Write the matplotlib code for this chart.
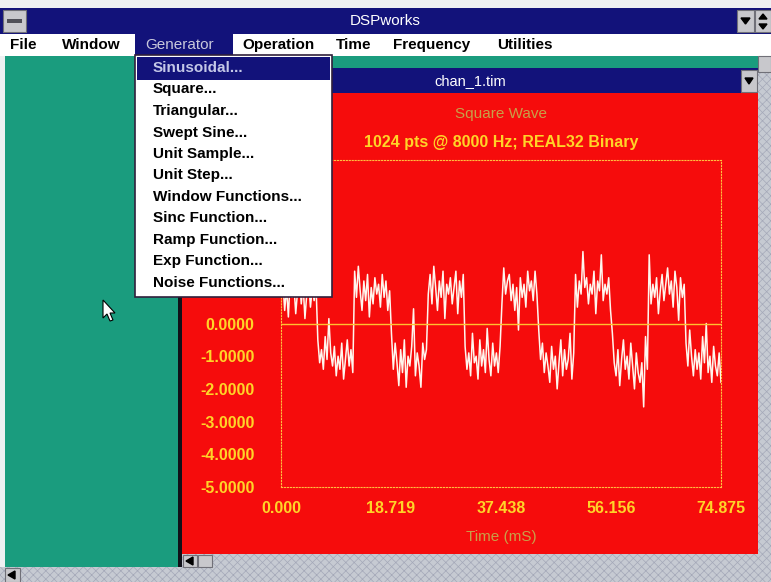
"""DSPworks screenshot: noisy square wave in chan_1.tim window."""
import matplotlib
matplotlib.use("Agg")
import matplotlib.pyplot as plt
import numpy as np
from matplotlib.patches import Rectangle, Polygon

W, H = 771, 582
FONT = ["Liberation Sans", "DejaVu Sans"]
plt.rcParams["font.family"] = FONT

NAVY = "#12127a"
TEAL = "#1a9c7e"
RED = "#f60c0c"
GRAY = "#c6cad2"
YELLOW = "#ffd428"
OLIVE = "#c8a048"

# --- data -------------------------------------------------------------------
# noisy square wave, one list per half period (volts)
seg01 = [0.9, 1.3, 0.4, 1.1, 0.2, 1.4, 0.8, 1.2, 0.3, 1.0, 1.5, 0.6, 1.2, 0.15, 0.9, 1.3, 0.5, 1.1, 0.7, 1.2]
seg02 = [-0.5, -1.2, -0.8, -1.4, -0.4, -1.1, 0.15, -0.9, -1.3, -0.7, -1.6, -1.0, -1.4, -0.6, -1.7, -1.1, -0.5, -1.3, -0.8, -1.5]
seg03 = [1.6, 0.8, 1.75, 1.0, 0.4, 1.3, 0.7, 1.5, 0.2, 1.1, 0.6, 1.4, 0.9, 1.2, 0.5, 1.5, 0.8, 1.3, 0.4, 1.0]
seg04 = [-0.3, -1.4, -0.6, -1.2, -1.9, -0.8, -1.5, -0.5, -1.95, -1.0, -1.3, -0.7, 0.45, -1.6, -0.9, -1.3, -1.95, -0.6, -1.1, -0.8]
seg05 = [0.9, 1.5, 0.6, 1.75, 1.1, 0.4, 1.3, 0.8, 1.6, 0.15, 1.2, 0.9, 1.4, 0.6, 1.1, 1.6, 0.3, 1.3, 0.8, 1.5]
seg06 = [-0.7, -1.4, -0.9, -1.6, -0.3, -1.2, -1.0, -1.7, -0.5, -1.3, -0.8, -1.5, -0.15, -1.1, -1.6, -0.6, -1.3, -0.9, -1.5, -0.7]
seg07 = [0.6, 1.7, 0.9, 1.3, 1.5, 0.7, 1.2, 0.4, 1.1, -0.2, 1.4, 0.8, 1.2, 0.5, 1.6, 1.0, 1.3, 0.7, 1.6, 0.9]
seg08 = [-0.2, -1.1, -0.6, -1.5, -0.9, -1.3, -1.8, -0.7, -1.4, -1.0, -2.0, -1.2, -0.5, -1.6, -0.8, -1.4, -1.1, -0.3, -1.7, -0.9]
seg09 = [1.5, 0.5, 1.3, 0.9, 2.2, 1.1, 1.4, 0.6, 1.2, 0.9, 1.6, 0.3, 1.3, 1.0, 2.1, 0.7, 1.2, 0.9, 1.4, 0.4]
seg10 = [-0.3, -1.2, -1.6, -0.8, -1.9, -1.1, -0.5, -1.4, -1.0, -1.7, -0.6, -1.3, -2.0, -0.9, -1.5, -1.8, -1.2, -2.55, -0.4, -1.4]
seg11 = [2.1, 0.6, 1.2, 0.8, 1.4, 0.3, 1.0, 1.5, 0.7, 1.2, 1.7, 0.9, 1.3, 0.5, 1.6, 1.1, 0.1, 1.4, 0.8, 1.2]
seg12 = [-0.6, -1.3, -0.2, -1.0, -1.6, -0.8, -1.4, -0.9, -1.7, -0.4, -1.2, 0.0, -1.5, -1.0, -1.8, -0.7, -1.3, -1.6, -0.9, -1.8]
segments = [seg01, seg02, seg03, seg04, seg05, seg06, seg07, seg08, seg09, seg10, seg11, seg12]

t_end = 74.875
x_ticks = [0.0, 18.719, 37.438, 56.156, 74.875]
y_ticks = [-5, -4, -3, -2, -1, 0]  # the positive labels sit under the open menu

menu_bar = [("File", 10), ("Window", 62), ("Generator", 145), ("Operation", 242),
            ("Time", 336), ("Frequency", 393), ("Utilities", 497)]
generator_items = ["Sinusoidal...", "Square...", "Triangular...", "Swept Sine...",
                   "Unit Sample...", "Unit Step...", "Window Functions...", "Sinc Function...",
                   "Ramp Function...", "Exp Function...", "Noise Functions..."]

fig = plt.figure(figsize=(W / 100, H / 100), dpi=100)


def px_axes(zorder):
    a = fig.add_axes([0, 0, 1, 1], zorder=zorder)
    a.set_xlim(0, W); a.set_ylim(H, 0); a.axis("off")
    a.patch.set_alpha(0)
    return a


def rect(a, x0, y0, x1, y1, fc, ec="none", lw=0, hatch=None, z=1):
    a.add_patch(Rectangle((x0, y0), x1 - x0, y1 - y0, facecolor=fc, edgecolor=ec,
                          linewidth=lw, hatch=hatch, zorder=z))


def button(a, x0, y0, x1, y1):
    rect(a, x0, y0, x1, y1, "#c8c8cc", "#707078", 0.8, z=3)


# --- window chrome (background) --------------------------------------------
bg = px_axes(0)
plt.rcParams["hatch.color"] = "#a4a8b8"
plt.rcParams["hatch.linewidth"] = 0.5
rect(bg, 0, 0, W, H, "#eef0f2")
rect(bg, 0, 8, W, 34, NAVY)
bg.text(385, 21, "DSPworks", color="white", fontsize=11, ha="center", va="center")
button(bg, 3, 10, 26, 32)
rect(bg, 7, 19, 22, 23, "#505058", z=4)
button(bg, 737, 10, 754, 32)
button(bg, 755, 10, 771, 32)
bg.add_patch(Polygon([(741, 18), (750, 18), (745.5, 24)], color="black", zorder=4))
bg.add_patch(Polygon([(759, 19), (767, 19), (763, 14)], color="black", zorder=4))
bg.add_patch(Polygon([(759, 24), (767, 24), (763, 29)], color="black", zorder=4))

rect(bg, 0, 34, W, 56, "white")
rect(bg, 135, 34, 233, 56, NAVY)
for label, x in menu_bar:
    col = "#c8c8dc" if label == "Generator" else "black"
    fw = "normal" if label == "Generator" else "bold"
    bg.text(x, 45, label, color=col, fontsize=11, fontweight=fw, ha="left", va="center")

rect(bg, 5, 56, 758, 567, TEAL)
rect(bg, 758, 56, W, 570, GRAY, "#a4a8b8", 0, hatch="xxxx")
rect(bg, 0, 567, W, H, GRAY, "#a4a8b8", 0, hatch="xxxx")
button(bg, 5, 568, 20, 582)
bg.add_patch(Polygon([(8, 575), (15, 571), (15, 579)], color="black", zorder=4))
button(bg, 758, 56, W, 72)

# child window
rect(bg, 178, 68, 182, 567, "#101018")
rect(bg, 182, 68, 758, 93, NAVY)
bg.text(470, 81, "chan_1.tim", color="white", fontsize=10.5, ha="center", va="center")
button(bg, 741, 70, 757, 92)
bg.add_patch(Polygon([(745, 78), (753, 78), (749, 84)], color="black", zorder=4))
rect(bg, 182, 93, 758, 554, RED)
rect(bg, 182, 554, 758, 567, GRAY, "#a4a8b8", 0, hatch="xxxx")
button(bg, 183, 555, 197, 567)
bg.add_patch(Polygon([(186, 561), (193, 557), (193, 565)], color="black", zorder=4))
button(bg, 198, 555, 212, 567)

bg.text(501, 114, "Square Wave", color=OLIVE, fontsize=11, ha="center", va="center")
bg.text(501, 143, "1024 pts @ 8000 Hz; REAL32 Binary", color=YELLOW, fontsize=11.5,
        fontweight="bold", ha="center", va="center")

# --- the plot ----------------------------------------------------------------
signal = np.concatenate([np.array(s, dtype=float) for s in segments])
t = np.linspace(0, t_end, signal.size)

ax = fig.add_axes([281 / W, 1 - 487 / H, 440 / W, 327 / H], zorder=1)
ax.patch.set_alpha(0)
ax.plot(t, signal, color="#fff6ee", linewidth=1.1)
ax.axhline(0, color="#ffc030", linewidth=1.0)
ax.set_xlim(0, t_end)
ax.set_ylim(-5, 5)
ax.set_xticks(x_ticks, [f"{v:.3f}" for v in x_ticks])
ax.set_yticks(y_ticks, [f"{v:.4f}" for v in y_ticks])
ax.tick_params(length=0, colors=YELLOW, labelsize=11.5)
ax.tick_params(axis="y", pad=19)
ax.tick_params(axis="x", pad=10)
for lab in ax.get_xticklabels() + ax.get_yticklabels():
    lab.set_fontweight("bold")
for sp in ax.spines.values():
    sp.set_color("#ffc040"); sp.set_linestyle(":"); sp.set_linewidth(0.8)
ax.set_xlabel("Time (mS)", color=OLIVE, fontsize=11, labelpad=10)

# --- dropdown menu and cursor on top ----------------------------------------
ov = px_axes(5)
rect(ov, 135, 55, 332, 297, "white", "#30203c", 1.2, z=1)
rect(ov, 137, 57, 330, 80, NAVY, z=2)
for i, item in enumerate(generator_items):
    col = "#c4c8e8" if i == 0 else "black"
    ov.text(153, 68 + i * 21.5, item, color=col, fontsize=11, fontweight="bold",
            ha="left", va="center", zorder=3)

ov.add_patch(Polygon([(103, 300), (103, 318), (107, 314), (110, 321), (113, 320),
                      (110, 313), (115, 313)], facecolor="white", edgecolor="black",
                     linewidth=0.8, zorder=4))

fig.savefig("out.png", dpi=100)
